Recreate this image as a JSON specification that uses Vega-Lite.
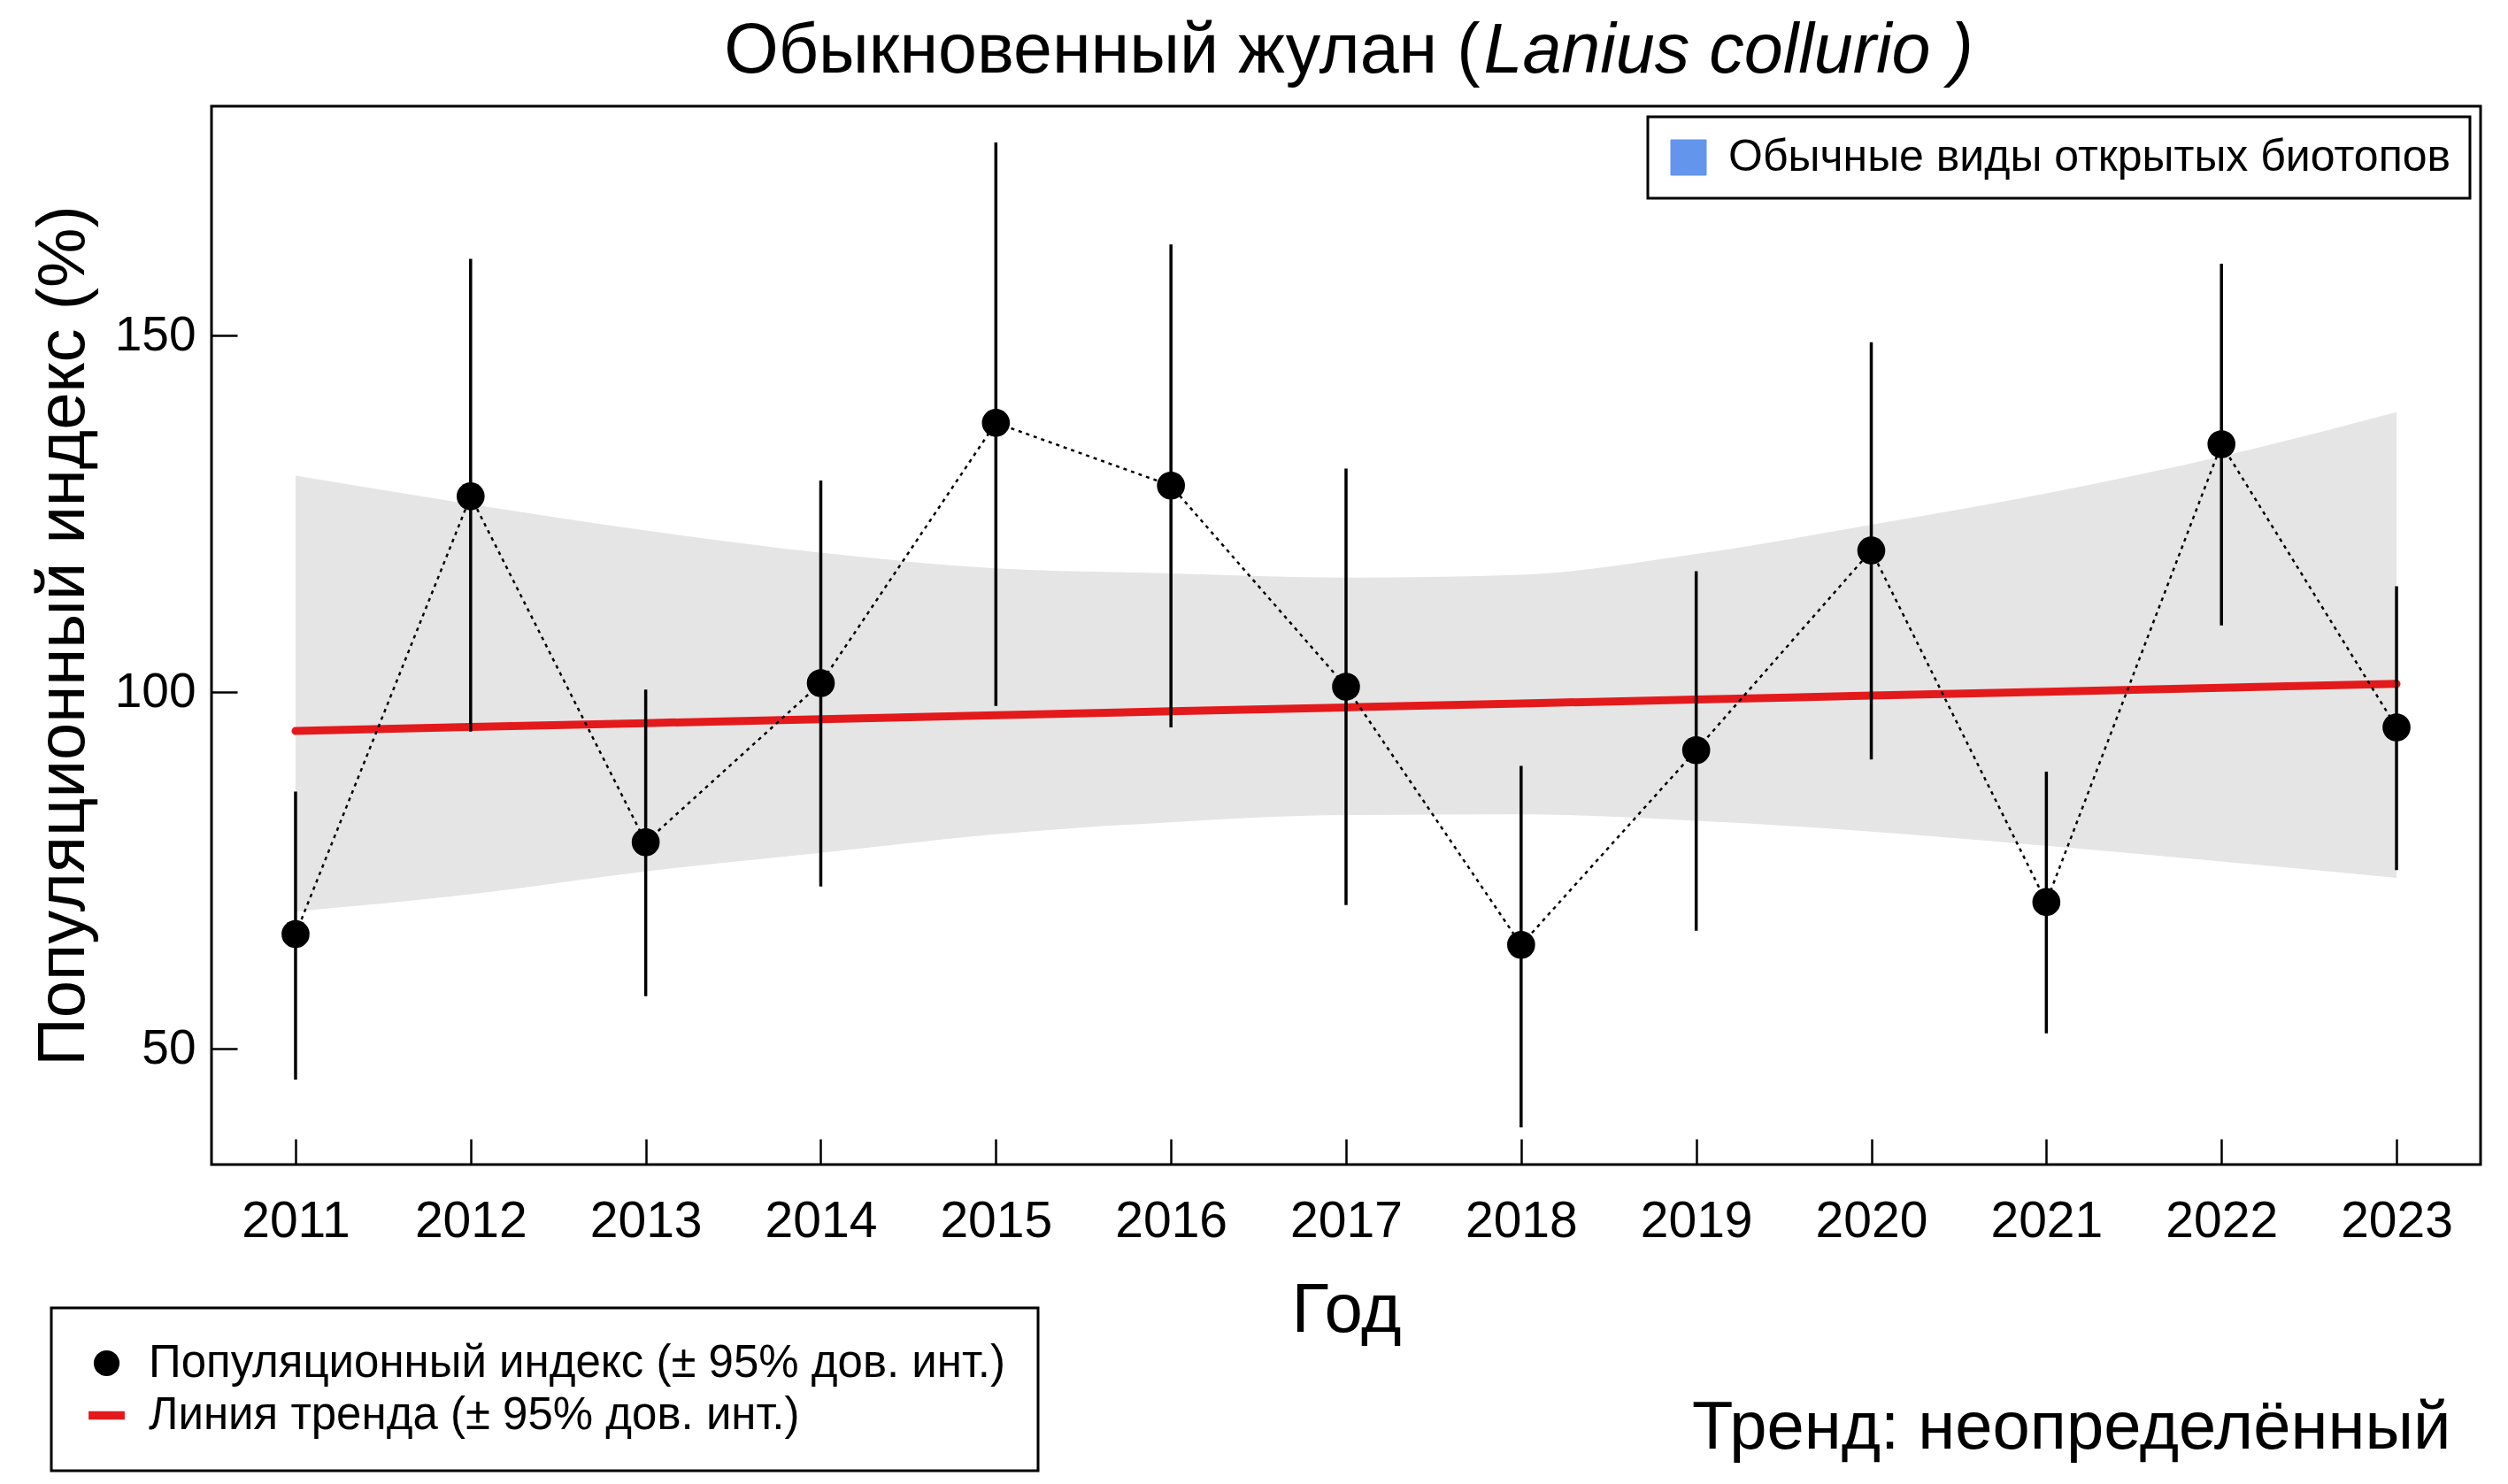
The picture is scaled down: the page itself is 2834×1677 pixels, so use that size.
{
  "$schema": "https://vega.github.io/schema/vega-lite/v6.json",
  "width": 2564,
  "height": 1196,
  "autosize": {"type": "none"},
  "padding": {"left": 239, "top": 120, "right": 31, "bottom": 361},
  "background": "white",
  "data": {"values": [
    {"year": 2011, "idx": 66.0, "lo": 45.6, "hi": 86.0, "trend": 94.5, "tlo": 69.2, "thi": 130.3},
    {"year": 2012, "idx": 127.4, "lo": 94.4, "hi": 160.7, "trend": 95.05, "tlo": 71.6, "thi": 126.3},
    {"year": 2013, "idx": 78.9, "lo": 57.3, "hi": 100.3, "trend": 95.6, "tlo": 74.8, "thi": 122.6},
    {"year": 2014, "idx": 101.2, "lo": 72.7, "hi": 129.6, "trend": 96.15, "tlo": 77.4, "thi": 119.5},
    {"year": 2015, "idx": 137.7, "lo": 98.0, "hi": 177.0, "trend": 96.7, "tlo": 80.0, "thi": 117.3},
    {"year": 2016, "idx": 128.9, "lo": 95.0, "hi": 162.7, "trend": 97.25, "tlo": 81.7, "thi": 116.6},
    {"year": 2017, "idx": 100.7, "lo": 70.1, "hi": 131.3, "trend": 97.8, "tlo": 82.7, "thi": 116.0},
    {"year": 2018, "idx": 64.5, "lo": 38.9, "hi": 89.6, "trend": 98.35, "tlo": 82.8, "thi": 116.4},
    {"year": 2019, "idx": 91.8, "lo": 66.5, "hi": 116.9, "trend": 98.9, "tlo": 81.9, "thi": 119.3},
    {"year": 2020, "idx": 119.8, "lo": 90.5, "hi": 149.0, "trend": 99.45, "tlo": 80.4, "thi": 123.4},
    {"year": 2021, "idx": 70.5, "lo": 52.1, "hi": 88.8, "trend": 100.0, "tlo": 78.4, "thi": 127.8},
    {"year": 2022, "idx": 134.7, "lo": 109.3, "hi": 160.0, "trend": 100.55, "tlo": 76.2, "thi": 133.0},
    {"year": 2023, "idx": 95.0, "lo": 75.0, "hi": 114.8, "trend": 101.1, "tlo": 73.9, "thi": 139.2}
  ]},
  "layer": [
    {
      "mark": {"type": "area", "interpolate": "monotone", "opacity": 1, "fill": "#e5e5e5"},
      "encoding": {
        "x": {"field": "year", "type": "quantitative",
              "scale": {"domain": [2010.52, 2023.48], "nice": false, "zero": false},
              "axis": {"orient": "bottom", "values": [2011, 2012, 2013, 2014, 2015, 2016, 2017, 2018, 2019, 2020, 2021, 2022, 2023],
                       "format": "d", "title": "Год", "titleX": 1282, "titleY": 188, "titleAlign": "center", "titleBaseline": "alphabetic",
                       "titleFontSize": 78, "labelFontSize": 57, "labelPadding": 65, "tickSize": -29, "tickWidth": 2.5, "tickColor": "black",
                       "labelFlush": false, "labelOverlap": false}},
        "y": {"field": "tlo", "type": "quantitative",
              "scale": {"domain": [33.7, 182.1], "nice": false, "zero": false},
              "axis": {"title": "Популяционный индекс (%)", "values": [50, 100, 150]}},
        "y2": {"field": "thi"}
      }
    },
    {
      "mark": {"type": "line", "strokeWidth": 9, "strokeCap": "round", "color": "#E31A1C"},
      "encoding": {
        "x": {"field": "year", "type": "quantitative",
              "scale": {"domain": [2010.52, 2023.48], "nice": false, "zero": false},
              "axis": {"orient": "top", "title": "Обыкновенный жулан (", "titleX": 1433, "titleY": -39, "titleAlign": "right",
                       "titleBaseline": "alphabetic", "titleFontSize": 79, "domain": false, "ticks": false, "labels": false}},
        "y": {"field": "trend", "type": "quantitative",
              "scale": {"domain": [33.7, 182.1], "nice": false, "zero": false},
              "axis": {"title": "Популяционный индекс (%)", "values": [50, 100, 150]}}
      }
    },
    {
      "mark": {"type": "rule", "strokeWidth": 3.5, "stroke": "black"},
      "encoding": {
        "x": {"field": "year", "type": "quantitative",
              "scale": {"domain": [2010.52, 2023.48], "nice": false, "zero": false},
              "axis": {"orient": "top", "title": "Lanius collurio )", "titleX": 1437, "titleY": -39, "titleAlign": "left",
                       "titleBaseline": "alphabetic", "titleFontSize": 79, "titleFontStyle": "italic", "domain": false, "ticks": false, "labels": false}},
        "y": {"field": "lo", "type": "quantitative",
              "scale": {"domain": [33.7, 182.1], "nice": false, "zero": false},
              "axis": {"title": "Популяционный индекс (%)", "values": [50, 100, 150]}},
        "y2": {"field": "hi"},
        "fill": {"datum": "Обычные виды открытых биотопов",
                 "scale": {"range": ["#6495ED"]},
                 "legend": {"title": null, "orient": "top-right", "offset": 12, "padding": 21,
                            "symbolType": "square", "symbolSize": 1600, "symbolStrokeColor": "#6495ED", "symbolStrokeWidth": 1,
                            "labelOffset": 20, "labelFontSize": 50, "strokeColor": "black"}}
      }
    },
    {
      "mark": {"type": "line", "strokeWidth": 2.5, "strokeDash": [4, 5], "color": "black"},
      "encoding": {
        "x": {"field": "year", "type": "quantitative",
              "scale": {"domain": [2010.52, 2023.48], "nice": false, "zero": false},
              "axis": {"orient": "bottom", "title": "Тренд: неопределённый", "titleX": 2530, "titleY": 320, "titleAlign": "right",
                       "titleBaseline": "alphabetic", "titleFontSize": 76, "domain": false, "ticks": false, "labels": false}},
        "y": {"field": "idx", "type": "quantitative",
              "scale": {"domain": [33.7, 182.1], "nice": false, "zero": false},
              "axis": {"title": "Популяционный индекс (%)", "values": [50, 100, 150]}}
      }
    },
    {
      "mark": {"type": "point", "filled": true, "size": 1000, "opacity": 1},
      "encoding": {
        "x": {"field": "year", "type": "quantitative",
              "scale": {"domain": [2010.52, 2023.48], "nice": false, "zero": false},
              "axis": null},
        "y": {"field": "idx", "type": "quantitative",
              "scale": {"domain": [33.7, 182.1], "nice": false, "zero": false},
              "axis": {"title": "Популяционный индекс (%)", "values": [50, 100, 150]}},
        "color": {"datum": "Популяционный индекс (± 95% дов. инт.)",
                  "scale": {"domain": ["Популяционный индекс (± 95% дов. инт.)", "Линия тренда (± 95% дов. инт.)"], "range": ["#000000", "#E31A1C"]},
                  "legend": {"title": null, "orient": "none", "legendX": -181, "legendY": 1358, "padding": 37,
                             "symbolSize": 850, "labelOffset": 22, "labelFontSize": 51, "rowPadding": 7, "strokeColor": "black"}},
        "shape": {"datum": "Популяционный индекс (± 95% дов. инт.)",
                  "scale": {"domain": ["Популяционный индекс (± 95% дов. инт.)", "Линия тренда (± 95% дов. инт.)"], "range": ["circle", "M-1.4,-0.32H1.4V0.32H-1.4Z"]},
                  "legend": {"title": null, "orient": "none", "legendX": -181, "legendY": 1358, "padding": 37,
                             "symbolSize": 850, "labelOffset": 22, "labelFontSize": 51, "rowPadding": 7, "strokeColor": "black"}}
      }
    }
  ],
  "resolve": {"axis": {"x": "independent"}},
  "config": {
    "font": "Liberation Sans",
    "view": {"stroke": "black", "strokeWidth": 3},
    "axis": {"grid": false, "domain": false, "labelColor": "black", "titleColor": "black", "titleFontWeight": "normal", "labelFont": "Liberation Sans", "titleFont": "Liberation Sans"},
    "axisY": {"labelFontSize": 55, "labelPadding": 47, "tickSize": -29, "tickWidth": 2.5, "tickColor": "black",
              "titleFontSize": 76, "titleX": -145, "titleY": 598, "titleAngle": -90, "titleBaseline": "alphabetic", "titleAlign": "center"},
    "legend": {"labelFont": "Liberation Sans", "labelColor": "black", "labelLimit": 0, "strokeWidth": 3, "fillColor": "white"}
  }
}
